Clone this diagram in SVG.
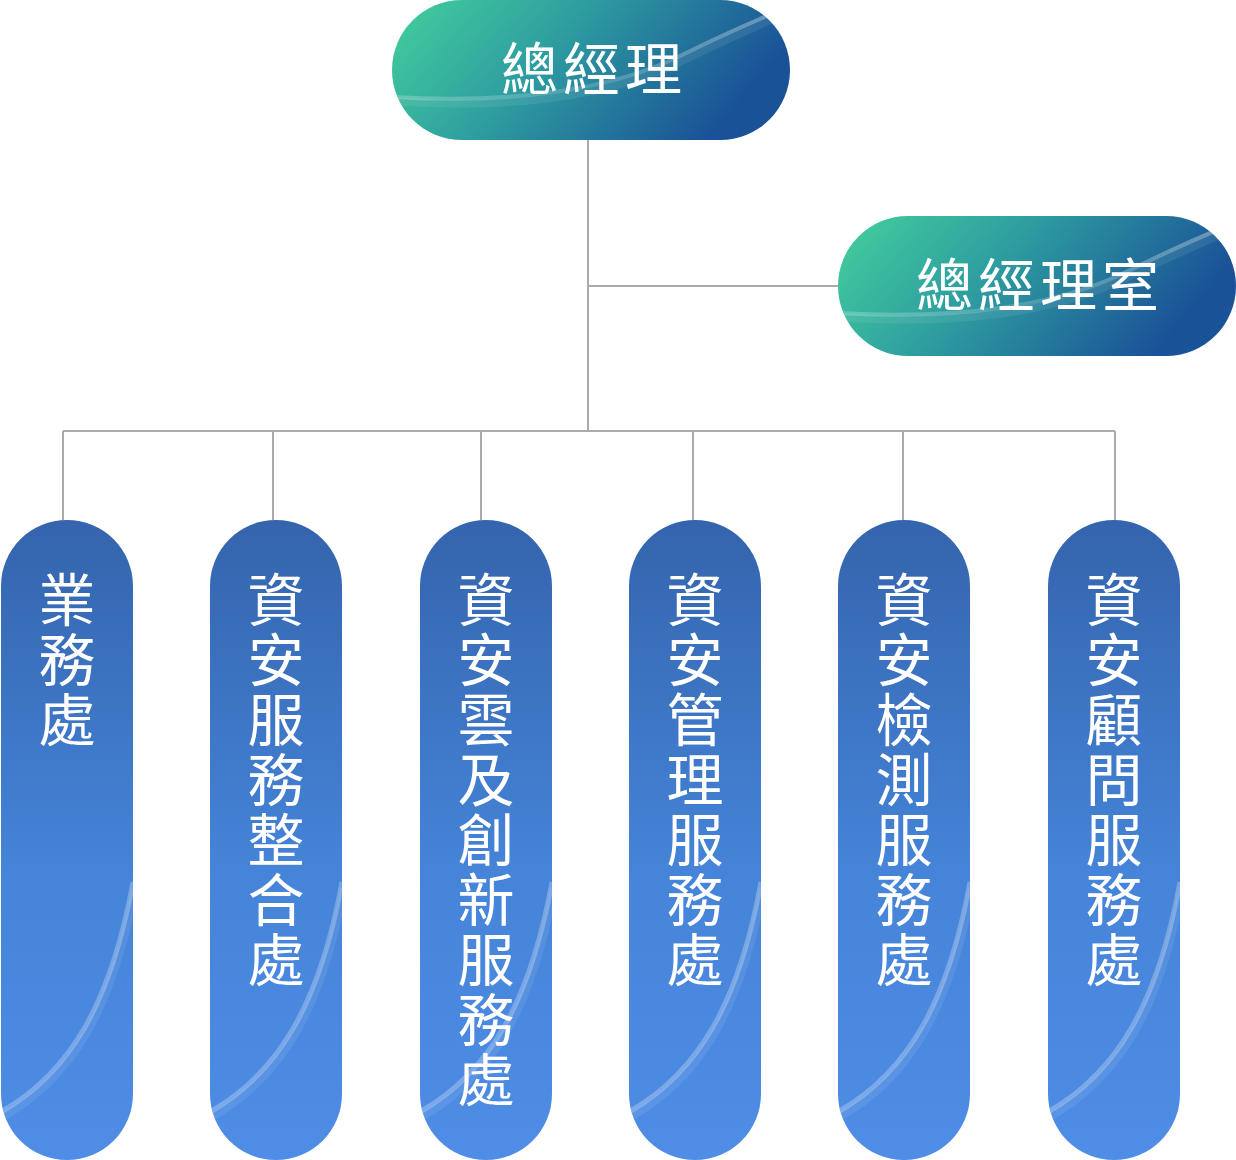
<svg xmlns="http://www.w3.org/2000/svg" width="1236" height="1160" viewBox="0 0 1236 1160">
<defs>
<linearGradient id="gTop" x1="0" y1="0" x2="1" y2="0.3">
<stop offset="0" stop-color="#44d09c"/>
<stop offset="0.45" stop-color="#2e9ea0"/>
<stop offset="1" stop-color="#1a5297"/>
</linearGradient>
<linearGradient id="gCol" x1="0" y1="0" x2="0" y2="1">
<stop offset="0" stop-color="#3464ad"/>
<stop offset="0.55" stop-color="#4584d8"/>
<stop offset="1" stop-color="#4f8de6"/>
</linearGradient>
<linearGradient id="gGlossH" x1="0" y1="0" x2="1" y2="0">
<stop offset="0" stop-color="#ffffff" stop-opacity="0.22"/>
<stop offset="0.5" stop-color="#ffffff" stop-opacity="0.18"/>
<stop offset="1" stop-color="#ffffff" stop-opacity="0.35"/>
</linearGradient>
<clipPath id="cColLocal"><rect x="0" y="0" width="132" height="640" rx="66"/></clipPath>
<clipPath id="cPillLocal"><rect x="0" y="0" width="398" height="140" rx="70"/></clipPath>
<symbol id="colShape" viewBox="0 0 132 640" width="132" height="640">
<rect x="0" y="0" width="132" height="640" rx="66" fill="url(#gCol)"/>
<g clip-path="url(#cColLocal)">
<path d="M0,592 C70,552 110,482 132,362" fill="none" stroke="#ffffff" stroke-opacity="0.26" stroke-width="5"/>
<path d="M0,598 C72,558 112,488 134,368" fill="none" stroke="#ffffff" stroke-opacity="0.08" stroke-width="8"/>
</g>
</symbol>
<symbol id="pillShape" viewBox="0 0 398 140" width="398" height="140">
<rect x="0" y="0" width="398" height="140" rx="70" fill="url(#gTop)"/>
<g clip-path="url(#cPillLocal)">
<path d="M0,97 C120,104 220,90 290,55 C330,35 360,22 398,6" fill="none" stroke="url(#gGlossH)" stroke-width="4"/>
<path d="M0,101 C120,110 220,96 290,61 C330,41 360,28 398,12" fill="none" stroke="#ffffff" stroke-opacity="0.08" stroke-width="8"/>
</g>
</symbol>
<style>
.ln{fill:none;stroke:#aaaaaa;stroke-width:2}
.t{font-family:"Noto Sans CJK TC","Noto Sans CJK SC",sans-serif;fill:#ffffff;font-size:57px}
.th{letter-spacing:5px;text-anchor:middle}
.tv{writing-mode:vertical-rl;letter-spacing:3px;text-anchor:start}
</style>
</defs>
<g id="connectors">
<path class="ln" d="M588,140 V431"/>
<path class="ln" d="M588,286 H838"/>
<path class="ln" d="M63,431 H1115"/>
<path class="ln" d="M63,431 V520 M273,431 V520 M481,431 V520 M693,431 V520 M903,431 V520 M1115,431 V520"/>
</g>
<g id="n-gm">
<use href="#pillShape" x="392" y="0"/>
<text class="t th" x="594" y="90">總經理</text>
</g>
<g id="n-office">
<use href="#pillShape" x="838" y="216"/>
<text class="t th" x="1040" y="306">總經理室</text>
</g>
<g id="n-1">
<use href="#colShape" x="1" y="520"/>
<text class="t tv" x="67" y="571">業務處</text>
</g>
<g id="n-2">
<use href="#colShape" x="210" y="520"/>
<text class="t tv" x="276" y="571">資安服務整合處</text>
</g>
<g id="n-3">
<use href="#colShape" x="420" y="520"/>
<text class="t tv" x="486" y="571">資安雲及創新服務處</text>
</g>
<g id="n-4">
<use href="#colShape" x="629" y="520"/>
<text class="t tv" x="695" y="571">資安管理服務處</text>
</g>
<g id="n-5">
<use href="#colShape" x="838" y="520"/>
<text class="t tv" x="904" y="571">資安檢測服務處</text>
</g>
<g id="n-6">
<use href="#colShape" x="1048" y="520"/>
<text class="t tv" x="1114" y="571">資安顧問服務處</text>
</g>
</svg>
